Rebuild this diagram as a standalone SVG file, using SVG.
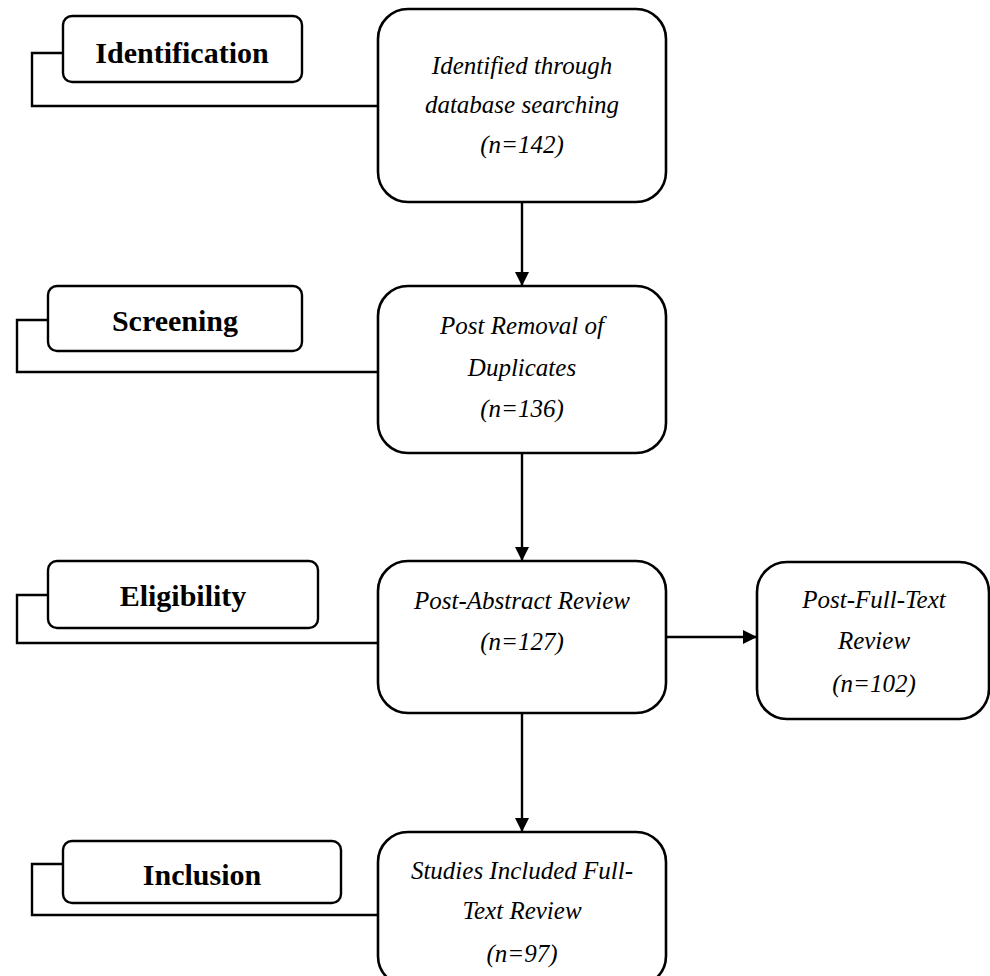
<svg xmlns="http://www.w3.org/2000/svg" width="990" height="976" viewBox="0 0 990 976">
<style>
.box{fill:#fff;stroke:#000;stroke-width:2.6}
.lbl{fill:#fff;stroke:#000;stroke-width:2.4}
.ln{fill:none;stroke:#000;stroke-width:2.4}
.t{font-family:"Liberation Serif","Times New Roman",serif;font-style:italic;font-size:25px;text-anchor:middle;fill:#000}
.b{font-family:"Liberation Serif","Times New Roman",serif;font-weight:bold;font-size:30px;text-anchor:middle;fill:#000}
</style>
<defs>
<marker id="ah" viewBox="0 0 14 14" refX="14" refY="7" markerWidth="14" markerHeight="14" markerUnits="userSpaceOnUse" orient="auto">
<path d="M0,0 L14,7 L0,14 Z" fill="#000"/>
</marker>
</defs>
<rect width="990" height="976" fill="#fff"/>
<g id="connectors">
<path class="ln" d="M63,53 H32 V106 H378"/>
<path class="ln" d="M48,320 H17 V372 H378"/>
<path class="ln" d="M48,595 H17 V643 H378"/>
<path class="ln" d="M63,864 H32 V915 H378"/>
<line class="ln" x1="522" y1="202" x2="522" y2="286" marker-end="url(#ah)"/>
<line class="ln" x1="522" y1="453" x2="522" y2="561" marker-end="url(#ah)"/>
<line class="ln" x1="522" y1="713" x2="522" y2="832" marker-end="url(#ah)"/>
<line class="ln" x1="666" y1="637" x2="757" y2="637" marker-end="url(#ah)"/>
</g>
<g id="lbl-identification">
<rect class="lbl" x="63" y="16" width="239" height="66" rx="9"/>
<text class="b" x="182" y="63">Identification</text>
</g>
<g id="lbl-screening">
<rect class="lbl" x="48" y="286" width="254" height="65" rx="9"/>
<text class="b" x="175" y="331">Screening</text>
</g>
<g id="lbl-eligibility">
<rect class="lbl" x="48" y="561" width="270" height="67" rx="9"/>
<text class="b" x="183" y="606">Eligibility</text>
</g>
<g id="lbl-inclusion">
<rect class="lbl" x="63" y="841" width="278" height="62" rx="9"/>
<text class="b" x="202" y="885">Inclusion</text>
</g>
<g id="box-identified">
<rect class="box" x="378" y="9" width="288" height="193" rx="30"/>
<text class="t" x="522" y="74">Identified through</text>
<text class="t" x="522" y="113">database searching</text>
<text class="t" x="522" y="153">(n=142)</text>
</g>
<g id="box-duplicates">
<rect class="box" x="378" y="286" width="288" height="167" rx="30"/>
<text class="t" x="522" y="334">Post Removal of</text>
<text class="t" x="522" y="376">Duplicates</text>
<text class="t" x="522" y="417">(n=136)</text>
</g>
<g id="box-abstract">
<rect class="box" x="378" y="561" width="288" height="152" rx="30"/>
<text class="t" x="522" y="609">Post-Abstract Review</text>
<text class="t" x="522" y="650">(n=127)</text>
</g>
<g id="box-fulltext">
<rect class="box" x="757" y="562" width="232" height="157" rx="30"/>
<text class="t" x="874" y="608">Post-Full-Text</text>
<text class="t" x="874" y="649">Review</text>
<text class="t" x="874" y="692">(n=102)</text>
</g>
<g id="box-included">
<rect class="box" x="378" y="832" width="288" height="154" rx="30"/>
<text class="t" x="522" y="879">Studies Included Full-</text>
<text class="t" x="522" y="919">Text Review</text>
<text class="t" x="522" y="962">(n=97)</text>
</g>
</svg>
